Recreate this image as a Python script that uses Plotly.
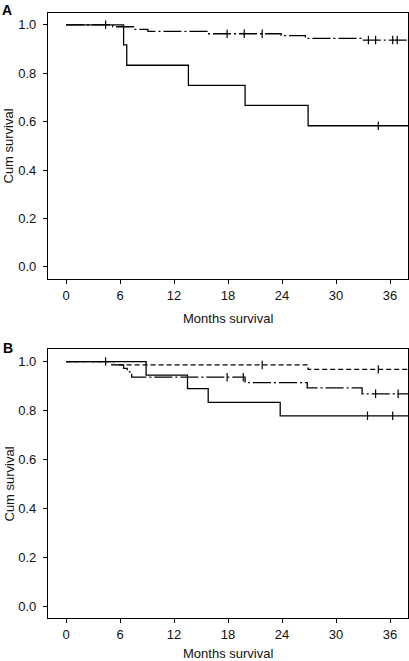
import plotly.graph_objects as go

# ---------------- data ----------------
# Panel A
a_small_event_times = [6.4, 6.75, 13.6, 19.9, 26.9]
a_small_surv = [0.917, 0.833, 0.750, 0.667, 0.583]
a_small_censor = [34.7]

a_large_event_times = [5.2, 7.5, 9.1, 15.7, 23.9, 26.6, 32.8]
a_large_surv = [0.992, 0.981, 0.973, 0.963, 0.955, 0.944, 0.937]
a_large_censor = [4.4, 17.9, 19.8, 21.8, 33.6, 34.4, 36.3, 36.8]

# Panel B
b_solid_event_times = [8.9, 13.5, 15.8, 23.8]
b_solid_surv = [0.944, 0.889, 0.833, 0.778]
b_solid_censor = [33.5, 36.3]

b_dash_event_times = [5.1, 26.9]
b_dash_surv = [0.986, 0.968]
b_dash_censor = [4.4, 21.8, 34.7]

b_dashdot_event_times = [5.3, 6.4, 6.8, 7.3, 19.9, 26.8, 32.9]
b_dashdot_surv = [0.986, 0.972, 0.958, 0.936, 0.914, 0.892, 0.868]
b_dashdot_censor = [17.9, 19.7, 34.4, 36.9]

x_ticks = [0, 6, 12, 18, 24, 30, 36]
y_ticks = [0.0, 0.2, 0.4, 0.6, 0.8, 1.0]
x_end = 38


def surv_at(t, times, surv):
    s = 1.0
    for ti, si in zip(times, surv):
        if ti <= t:
            s = si
    return s


fig = go.Figure()


def add_curve(times, surv, censor, dash, xa, ya):
    xs = [0] + list(times) + [x_end]
    ys = [1.0] + list(surv) + [surv[-1]]
    fig.add_trace(go.Scatter(x=xs, y=ys, mode="lines", line_shape="hv",
                             line=dict(color="black", width=1.3, dash=dash),
                             xaxis=xa, yaxis=ya, showlegend=False, hoverinfo="skip"))
    fig.add_trace(go.Scatter(x=censor, y=[surv_at(c, times, surv) for c in censor],
                             mode="markers",
                             marker=dict(symbol="line-ns", size=6,
                                         line=dict(color="black", width=1.2)),
                             xaxis=xa, yaxis=ya, showlegend=False, hoverinfo="skip"))


DASHDOT = "18px,3px,2px,3px"
add_curve(a_small_event_times, a_small_surv, a_small_censor, "solid", "x", "y")
add_curve(a_large_event_times, a_large_surv, a_large_censor, DASHDOT, "x", "y")
add_curve(b_solid_event_times, b_solid_surv, b_solid_censor, "solid", "x2", "y2")
add_curve(b_dash_event_times, b_dash_surv, b_dash_censor, "5px,3px", "x2", "y2")
add_curve(b_dashdot_event_times, b_dashdot_surv, b_dashdot_censor, DASHDOT, "x2", "y2")

W, H = 409, 661
font = dict(family="Liberation Sans, Arial, sans-serif", size=13, color="#111")

xcommon = dict(range=[-2, 38], tickvals=x_ticks, ticks="outside", ticklen=4,
               tickwidth=1, tickcolor="black", showline=True, mirror=True,
               linecolor="black", linewidth=1.2, showgrid=False, zeroline=False,
               tickfont=font)
ycommon = dict(range=[-0.05, 1.05], tickvals=y_ticks, tickformat=".1f",
               ticks="outside", ticklen=4, tickwidth=1, tickcolor="black",
               showline=True, mirror=True, linecolor="black", linewidth=1.2,
               showgrid=False, zeroline=False, tickfont=font, ticklabelstandoff=4)

xdom = [48 / W, 408 / W]
a_dom = [1 - 279 / H, 1 - 12.7 / H]
b_dom = [1 - 618.3 / H, 1 - 349.3 / H]

fig.update_layout(
    width=W, height=H, margin=dict(l=0, r=0, t=0, b=0),
    paper_bgcolor="white", plot_bgcolor="white", font=font,
    xaxis=dict(domain=xdom, anchor="y", **xcommon),
    yaxis=dict(domain=a_dom, anchor="x", **ycommon),
    xaxis2=dict(domain=xdom, anchor="y2", **xcommon),
    yaxis2=dict(domain=b_dom, anchor="x2", **ycommon),
)

def px_x(p):
    return p / W

def px_y(p):
    return 1 - p / H

annotations = [
    dict(text="<b>A</b>", x=px_x(0), y=px_y(10), xanchor="left", yanchor="middle",
         font=dict(family="Liberation Sans, Arial, sans-serif", size=14, color="black")),
    dict(text="<b>B</b>", x=px_x(1), y=px_y(348), xanchor="left", yanchor="middle",
         font=dict(family="Liberation Sans, Arial, sans-serif", size=14, color="black")),
    dict(text="Months survival", x=px_x(228), y=px_y(318), xanchor="center", yanchor="middle"),
    dict(text="Months survival", x=px_x(228), y=px_y(653), xanchor="center", yanchor="middle"),
    dict(text="Cum survival", x=px_x(8.5), y=px_y(146), xanchor="center", yanchor="middle", textangle=-90),
    dict(text="Cum survival", x=px_x(8.5), y=px_y(484), xanchor="center", yanchor="middle", textangle=-90),
]
for a in annotations:
    a.update(xref="paper", yref="paper", showarrow=False)
    fig.add_annotation(**a)

fig.write_html(
    "out.html",
    config={"displayModeBar": False},
    post_script="document.body.style.margin='0';document.body.style.overflow='hidden';",
)
